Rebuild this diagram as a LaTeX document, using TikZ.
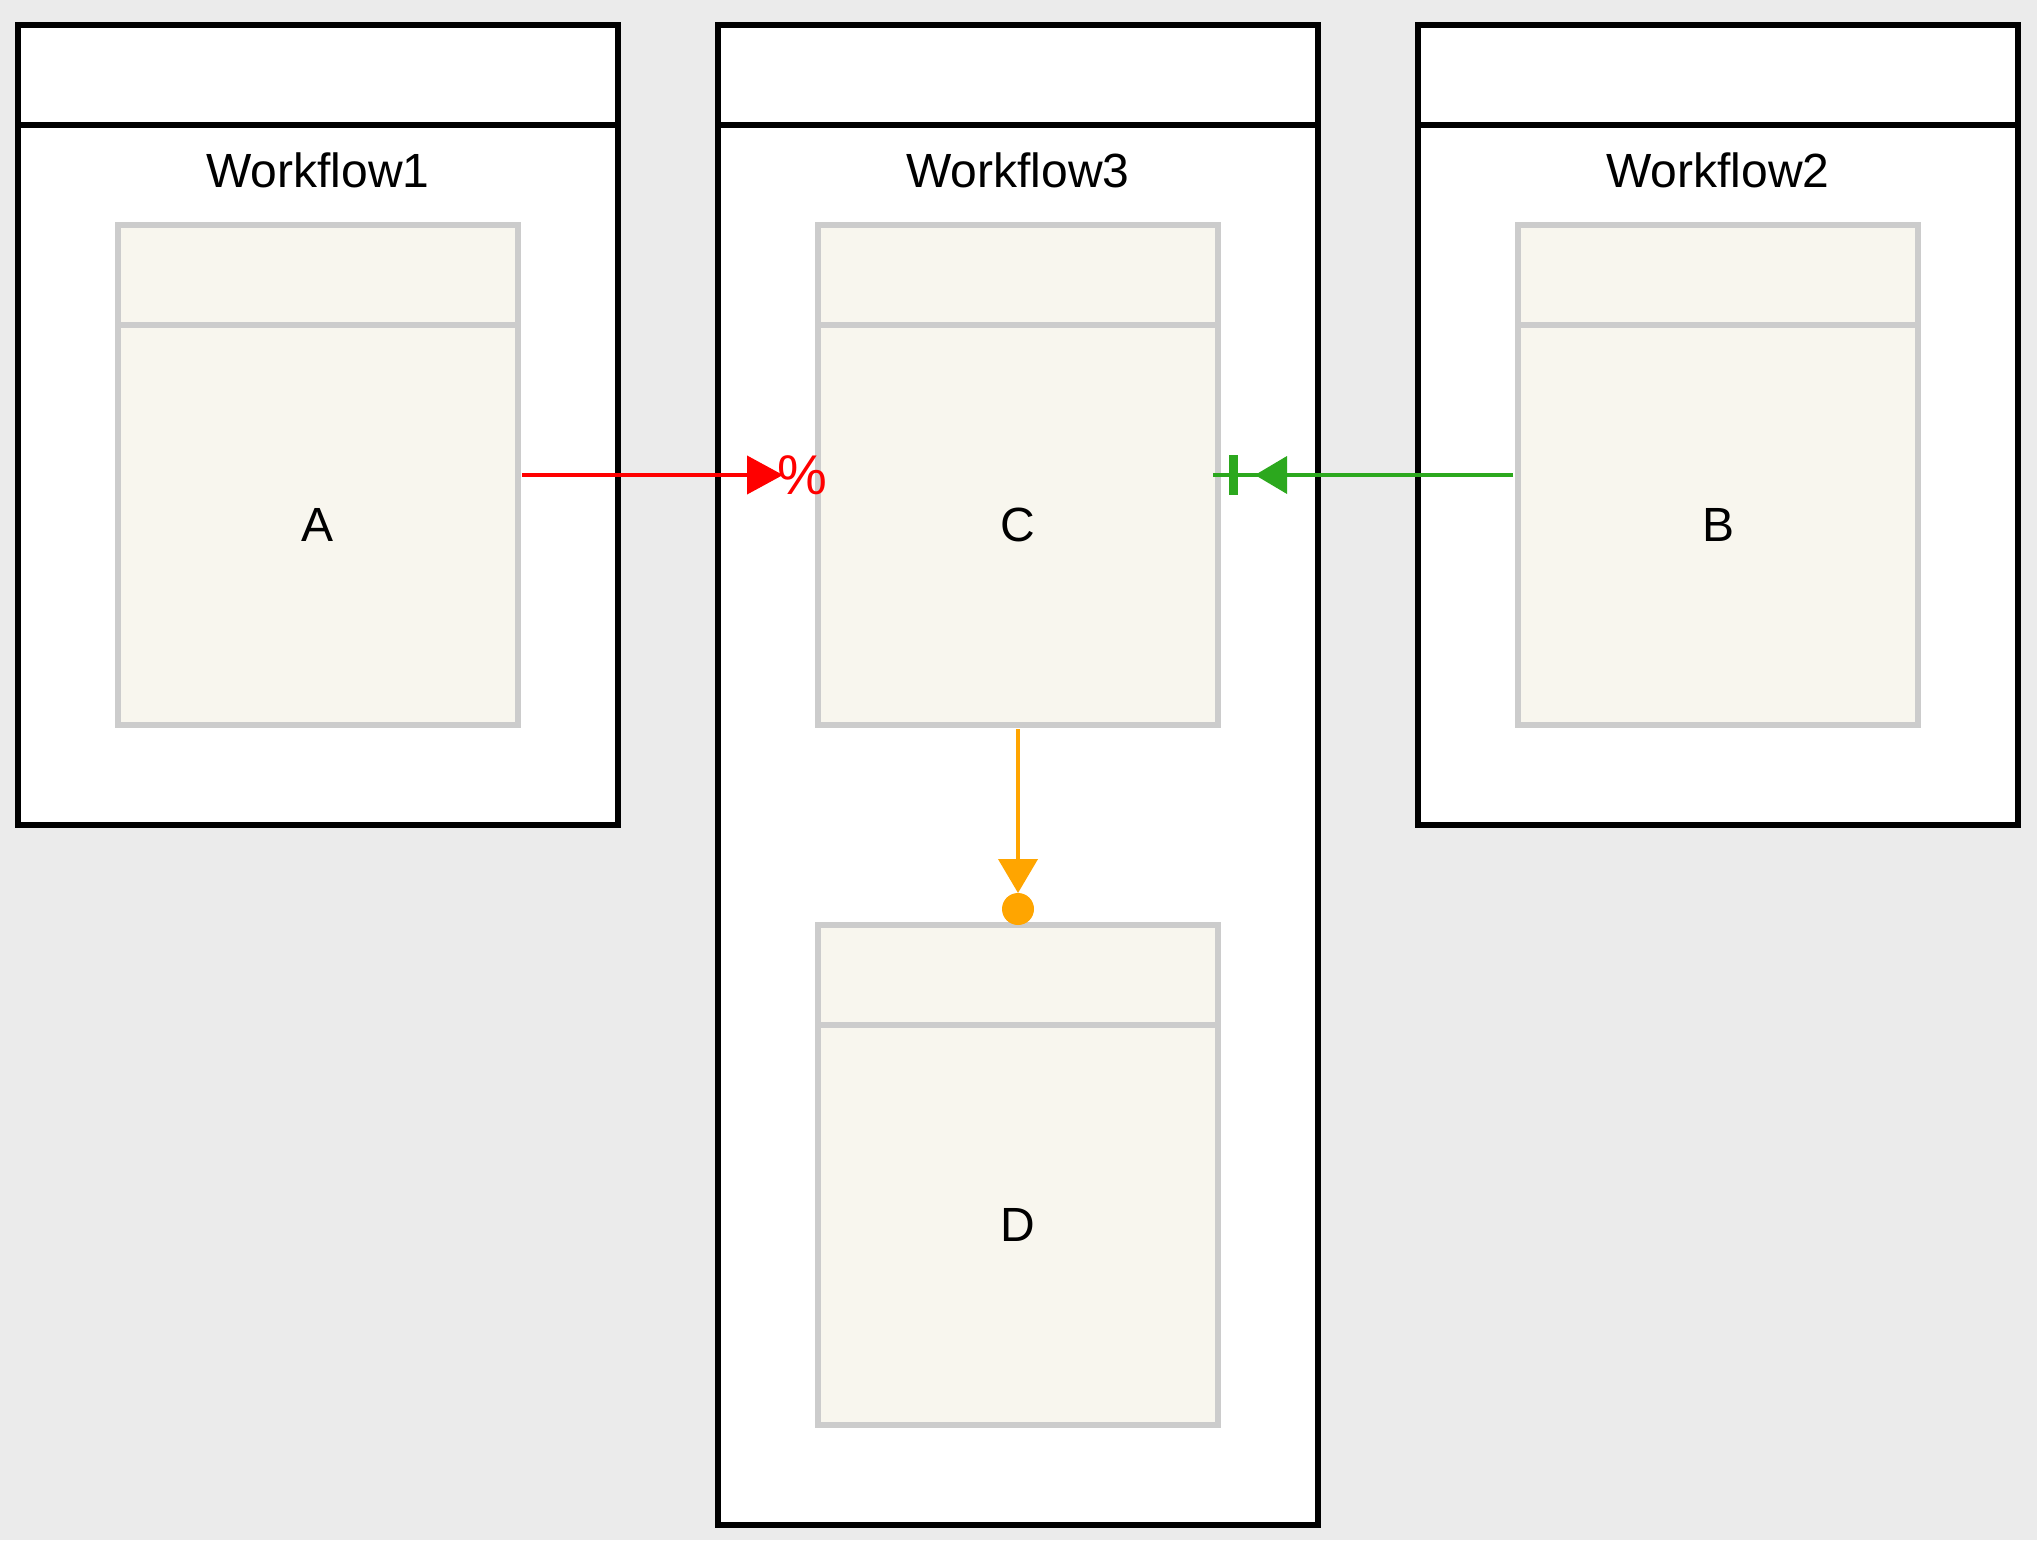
\documentclass[tikz,border=0pt]{standalone}
\usepackage{fontspec}
\setmainfont{Liberation Sans}
\usetikzlibrary{arrows.meta,calc}
\definecolor{bgc}{RGB}{235,235,235}
\definecolor{cellfill}{RGB}{248,246,238}
\definecolor{cellline}{RGB}{204,204,204}
\definecolor{wfred}{RGB}{255,0,0}
\definecolor{wfgreen}{RGB}{44,168,30}
\definecolor{wforange}{RGB}{255,165,0}
\tikzset{
  lane/.style={draw=black, line width=2.9pt, fill=white, minimum width=300pt, inner sep=0pt, outer sep=0pt},
  lanesep/.style={draw=black, line width=2.9pt},
  cell/.style={draw=cellline, line width=2.9pt, fill=cellfill, minimum width=200pt, minimum height=250pt, inner sep=0pt, outer sep=0pt},
  cellsep/.style={draw=cellline, line width=2.9pt},
  lbl/.style={font=\fontsize{24}{28}\selectfont, inner sep=0pt},
  conn/.style={line width=2.1pt},
}
\begin{document}
\begin{tikzpicture}[x=0.5pt,y=-0.5pt]
\useasboundingbox (0,0) rectangle (2037,1540);
\fill[bgc] (0,0) rectangle (2037,1540);
% containers
\node[lane, minimum height=400pt] (W1) at (318,425) {};
\node[lane, minimum height=750pt] (W3) at (1018,775) {};
\node[lane, minimum height=400pt] (W2) at (1718,425) {};
\foreach \w in {W1,W3,W2}{
  \draw[lanesep] ($(\w.north west)+(0,100)$) -- ($(\w.north east)+(0,100)$);
}
\node[lbl] (t1) at (318,170) {Workflow1};
\node[lbl] (t3) at (1018,170) {Workflow3};
\node[lbl] (t2) at (1718,170) {Workflow2};
% cells
\node[cell] (A) at (318,475) {};
\node[cell] (C) at (1018,475) {};
\node[cell] (B) at (1718,475) {};
\node[cell] (D) at (1018,1175) {};
\foreach \c in {A,C,B,D}{
  \draw[cellsep] ($(\c.north west)+(0,100)$) -- ($(\c.north east)+(0,100)$);
}
\node[lbl] (la) at ($(A.center)+(0,50)$) {A};
\node[lbl] (lc) at ($(C.center)+(0,50)$) {C};
\node[lbl] (lb) at ($(B.center)+(0,50)$) {B};
\node[lbl] (ld) at ($(D.center)+(0,50)$) {D};
% red connector A -> C
\draw[conn, wfred, -{Triangle[length=18pt,width=19pt]}, shorten <=2pt, shorten >=17.5pt] (A.east) -- (C.west);
\node[lbl, text=wfred, font=\fontsize{28}{32}\selectfont] (pct) at ($(C.west)+(-16,0)$) {\%};
% green connector B -> C
\draw[conn, wfgreen, shorten <=2.5pt, shorten >=-2.5pt] (B.west) -- (C.east);
\fill[wfgreen] ($(C.east)+(37,0)$) -- ($(C.east)+(69,-19)$) -- ($(C.east)+(69,19)$) -- cycle;
\draw[wfgreen, line width=4.2pt] ($(C.east)+(15.5,-20)$) -- ($(C.east)+(15.5,20)$);
% orange connector C -> D
\draw[conn, wforange, -{Triangle[length=17pt,width=19.5pt]}, shorten <=2pt, shorten >=16pt] (C.south) -- (D.north);
\fill[wforange] ($(D.north)+(0,-16)$) circle (8pt);
\end{tikzpicture}
\end{document}
